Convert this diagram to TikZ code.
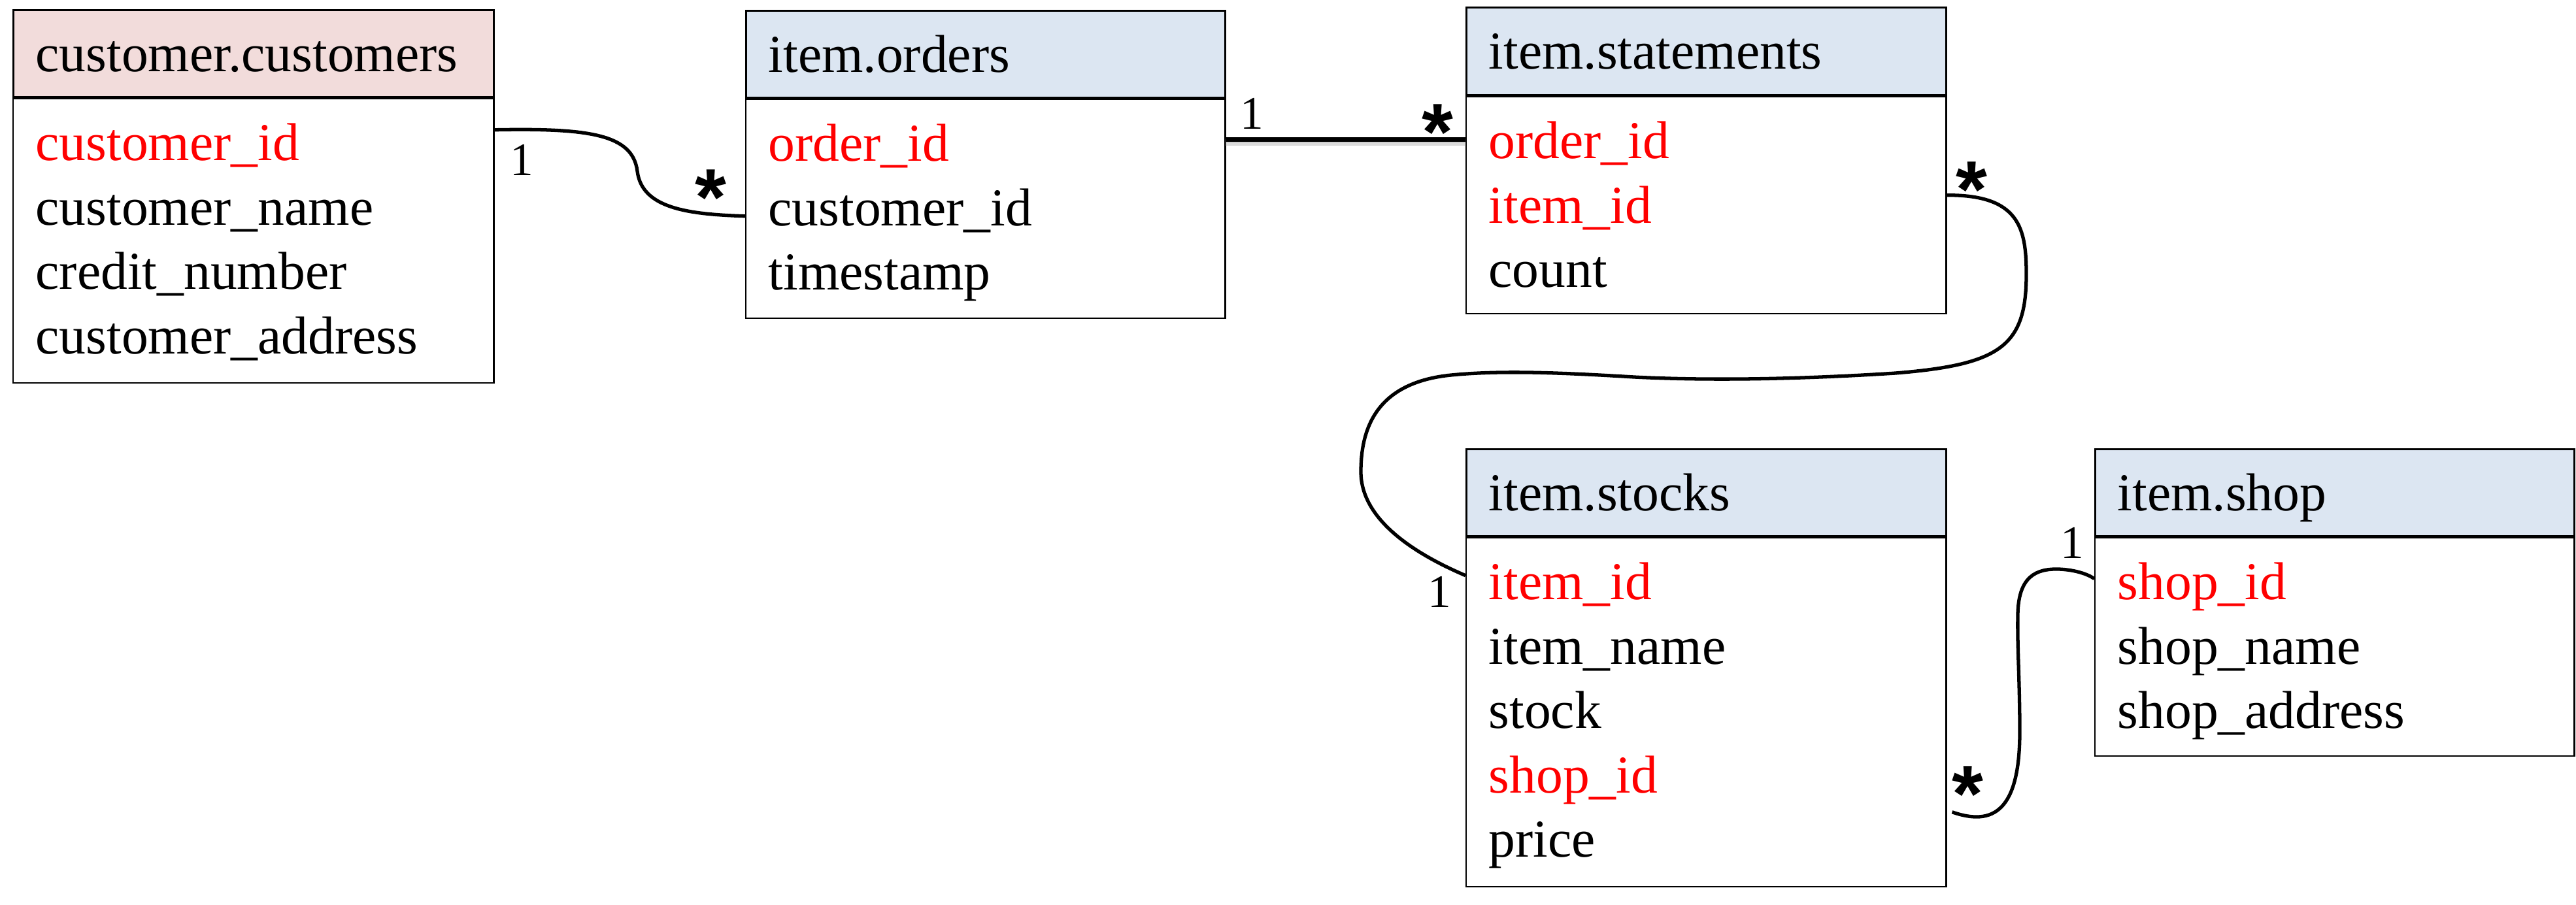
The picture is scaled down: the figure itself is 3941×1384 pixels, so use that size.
\documentclass[tikz,border=0pt]{standalone}
\usepackage{fontspec}
\setmainfont{Liberation Serif}
\newfontfamily\starfont{Liberation Sans}
\usetikzlibrary{calc}
\definecolor{pinkhdr}{RGB}{242,220,219}
\definecolor{bluehdr}{RGB}{220,230,242}
\definecolor{keyred}{RGB}{255,0,0}
\begin{document}
\begin{tikzpicture}[x=0.01cm,y=-0.01cm,
  hdr/.style={draw=black, line width=0.75pt, inner sep=0pt, anchor=north west, minimum height=1.33cm},
  bodybox/.style={draw=black, line width=0.6pt, fill=white, inner sep=0pt, anchor=north west},
  title/.style={font=\fontsize{23.2}{28}\selectfont, inner sep=0pt, anchor=base west},
  field/.style={font=\fontsize{23.2}{28}\selectfont, inner sep=0pt, anchor=base west},
  key/.style={field, text=keyred},
  mult/.style={font=\fontsize{20.3}{24}\selectfont, inner sep=0pt, anchor=base west},
  many/.style={font=\starfont\bfseries\fontsize{35}{40}\selectfont, inner sep=0pt, anchor=base},
  rel/.style={line width=1.5pt},
  relthick/.style={line width=2pt},
  relshadow/.style={line width=3pt, black!14}
]
\useasboundingbox (0,0) rectangle (3941,1384);

% ---------- customer.customers ----------
\node[hdr, fill=pinkhdr, minimum width=7.35cm] (custh) at (19,14) {};
\node[bodybox, minimum width=7.35cm, minimum height=4.35cm] (custb) at (custh.south west) {};
\node[title] (custT) at ($(custh.north west)+(35,95)$) {customer.customers};
\node[key]   (custR1) at ($(custb.north west)+(35,96)$) {customer\_id};
\node[field] (custR2) at ($(custb.north west)+(35,194.5)$) {customer\_name};
\node[field] (custR3) at ($(custb.north west)+(35,293)$) {credit\_number};
\node[field] (custR4) at ($(custb.north west)+(35,391.5)$) {customer\_address};

% ---------- item.orders ----------
\node[hdr, fill=bluehdr, minimum width=7.33cm] (ordh) at (1140,15) {};
\node[bodybox, minimum width=7.33cm, minimum height=3.35cm] (ordb) at (ordh.south west) {};
\node[title] (ordT) at ($(ordh.north west)+(35,95)$) {item.orders};
\node[key]   (ordR1) at ($(ordb.north west)+(35,96)$) {order\_id};
\node[field] (ordR2) at ($(ordb.north west)+(35,194.5)$) {customer\_id};
\node[field] (ordR3) at ($(ordb.north west)+(35,293)$) {timestamp};

% ---------- item.statements ----------
\node[hdr, fill=bluehdr, minimum width=7.34cm, minimum height=1.34cm] (stmh) at (2242,10) {};
\node[bodybox, minimum width=7.34cm, minimum height=3.32cm] (stmb) at (stmh.south west) {};
\node[title] (stmT) at ($(stmh.north west)+(35,95)$) {item.statements};
\node[key]   (stmR1) at ($(stmb.north west)+(35,96)$) {order\_id};
\node[key]   (stmR2) at ($(stmb.north west)+(35,194.5)$) {item\_id};
\node[field] (stmR3) at ($(stmb.north west)+(35,293)$) {count};

% ---------- item.stocks ----------
\node[hdr, fill=bluehdr, minimum width=7.34cm] (stkh) at (2242,686) {};
\node[bodybox, minimum width=7.34cm, minimum height=5.34cm] (stkb) at (stkh.south west) {};
\node[title] (stkT) at ($(stkh.north west)+(35,95)$) {item.stocks};
\node[key]   (stkR1) at ($(stkb.north west)+(35,96)$) {item\_id};
\node[field] (stkR2) at ($(stkb.north west)+(35,194.5)$) {item\_name};
\node[field] (stkR3) at ($(stkb.north west)+(35,293)$) {stock};
\node[key]   (stkR4) at ($(stkb.north west)+(35,391.5)$) {shop\_id};
\node[field] (stkR5) at ($(stkb.north west)+(35,490)$) {price};

% ---------- item.shop ----------
\node[hdr, fill=bluehdr, minimum width=7.33cm] (shph) at (3204,686) {};
\node[bodybox, minimum width=7.33cm, minimum height=3.34cm] (shpb) at (shph.south west) {};
\node[title] (shpT) at ($(shph.north west)+(35,95)$) {item.shop};
\node[key]   (shpR1) at ($(shpb.north west)+(35,96)$) {shop\_id};
\node[field] (shpR2) at ($(shpb.north west)+(35,194.5)$) {shop\_name};
\node[field] (shpR3) at ($(shpb.north west)+(35,293)$) {shop\_address};

% ---------- connectors ----------
% customers -- orders
\draw[rel] ($(custb.north east)+(0,49)$)
  .. controls (900,196) and (968,205) .. (975,262)
  .. controls (982,318) and (1050,328) .. ($(ordb.north west)+(0,180)$);
\node[mult] (m1a) at (780,268) {1};
\node[many] (m1b) at (1087,344) {*};

% orders -- statements
\draw[relshadow] ($(ordb.north east)+(0,67)$) -- ($(stmb.north west)+(0,71)$);
\draw[relthick] ($(ordb.north east)+(0,63)$) -- ($(stmb.north west)+(0,67)$);
\node[mult] (m2a) at (1897,197) {1};
\node[many] (m2b) at (2199,244) {*};

% statements -- stocks
\draw[rel] ($(stmb.north east)+(0,152)$)
  .. controls (3090,298) and (3100,350) .. (3100,420)
  .. controls (3100,530) and (3060,558) .. (2900,571)
  .. controls (2760,580) and (2620,583) .. (2500,577)
  .. controls (2400,571) and (2300,566) .. (2220,574)
  .. controls (2110,585) and (2082,650) .. (2082,722)
  .. controls (2082,800) and (2175,852) .. ($(stkb.north west)+(0,59)$);
\node[many] (m3a) at (3016,332) {*};
\node[mult] (m3b) at (2184,929) {1};

% stocks -- shop
\draw[rel] ($(stkb.north east)+(8,421)$)
  .. controls (3050,1265) and (3090,1240) .. (3090,1120)
  .. controls (3090,1040) and (3086,990) .. (3087,940)
  .. controls (3088,882) and (3115,870) .. (3150,871)
  .. controls (3175,872) and (3195,879) .. ($(shpb.north west)+(0,64)$);
\node[many] (m4a) at (3010,1257) {*};
\node[mult] (m4b) at (3152,854) {1};

\end{tikzpicture}
\end{document}
